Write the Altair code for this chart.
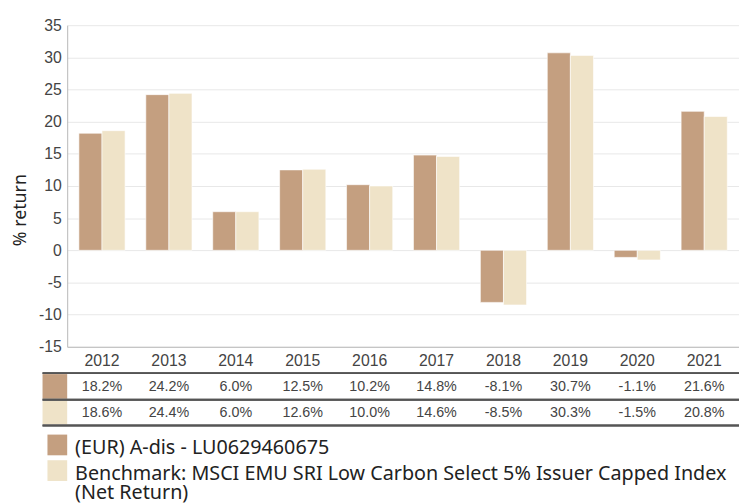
import altair as alt
import pandas as pd

years = ["2012", "2013", "2014", "2015", "2016", "2017", "2018", "2019", "2020", "2021"]
fund = [18.2, 24.2, 6.0, 12.5, 10.2, 14.8, -8.1, 30.7, -1.1, 21.6]
bench = [18.6, 24.4, 6.0, 12.6, 10.0, 14.6, -8.5, 30.3, -1.5, 20.8]
series = [
    "(EUR) A-dis - LU0629460675",
    "Benchmark: MSCI EMU SRI Low Carbon Select 5% Issuer Capped Index\n(Net Return)",
]
colors = ["#c49f80", "#efe3c8"]
y_ticks = [-15, -10, -5, 0, 5, 10, 15, 20, 25, 30, 35]

rows = []
for s, vals in zip(series, [fund, bench]):
    for y, v in zip(years, vals):
        rows.append({"year": y, "series": s, "value": v, "label": f"{v:.1f}%"})
df = pd.DataFrame(rows)
leg_df = pd.DataFrame({"series": series})

color = alt.Color("series:N", scale=alt.Scale(domain=series, range=colors), legend=None)
xenc = alt.X(
    "year:N",
    sort=years,
    scale=alt.Scale(paddingInner=0.31, paddingOuter=0.175),
    axis=alt.Axis(
        title=None, labelAngle=0, ticks=False, domain=True, domainColor="#b8b8b8",
        labelFontSize=16, labelColor="#444444", labelFont="Liberation Sans", labelPadding=6,
    ),
)

base = alt.Chart(df)

bars = base.mark_bar(stroke="white", strokeWidth=1, strokeOpacity=0.6).encode(
    x=xenc,
    xOffset=alt.XOffset("series:N", sort=series),
    y=alt.Y(
        "value:Q",
        scale=alt.Scale(domain=[-15, 35], nice=False, zero=False),
        axis=alt.Axis(
            values=y_ticks, title="% return", ticks=False, domainColor="#b8b8b8",
            labelExpr="datum.value + ''",
            gridColor="#e8e8e8", labelFontSize=16, labelColor="#444444",
            labelFont="Liberation Sans", labelPadding=6,
            titleFont="Noto Sans", titleFontSize=18, titleFontWeight="normal",
            titleColor="#222222", titleX=-42, titleY=187, titleAngle=-90,
            titleAlign="center", titleBaseline="alphabetic",
        ),
    ),
    color=color,
)

layers = [bars]

# table rows
row_text_y = [367, 393]
swatch_y = [(353.7, 378.7), (380.7, 404.7)]
for i, s in enumerate(series):
    sub = base.transform_filter(alt.datum.series == s)
    layers.append(
        sub.mark_text(font="Liberation Sans", fontSize=14.5, color="#444444", baseline="middle").encode(
            x=alt.X("year:N", sort=years), y=alt.value(row_text_y[i]), text="label:N"
        )
    )
    leg = alt.Chart(leg_df).transform_filter(alt.datum.series == s)
    layers.append(
        leg.mark_rect().encode(
            x=alt.value(-25), x2=alt.value(0),
            y=alt.value(swatch_y[i][0]), y2=alt.value(swatch_y[i][1]), color=color,
        )
    )

for ly in [352.7, 379.7, 405.7]:
    layers.append(
        alt.Chart(leg_df).mark_rule(color="#555555", strokeWidth=2).encode(
            x=alt.value(-25), x2=alt.value(681), y=alt.value(ly)
        )
    )

# legend
leg_sw = [(415, 436), (441, 462)]
leg_text_y = [428.5, 445]
for i, s in enumerate(series):
    leg = alt.Chart(leg_df).transform_filter(alt.datum.series == s)
    layers.append(
        leg.mark_rect().encode(
            x=alt.value(-20), x2=alt.value(0),
            y=alt.value(leg_sw[i][0]), y2=alt.value(leg_sw[i][1]), color=color,
        )
    )
    layers.append(
        leg.mark_text(
            font="Noto Sans", fontSize=20, color="#222222", align="left",
            baseline="middle" if i == 0 else "top", lineBreak="\n", lineHeight=19,
        ).encode(x=alt.value(8), y=alt.value(leg_text_y[i]), text="series:N")
    )

chart = (
    alt.layer(*layers)
    .properties(
        width=681, height=326, autosize=alt.AutoSizeParams(type="none"),
        padding={"left": 60, "top": 14, "right": 0, "bottom": 160},
    )
    .configure_view(stroke=None)
)

chart.save("out.html", embed_options={"renderer": "svg", "actions": False})
